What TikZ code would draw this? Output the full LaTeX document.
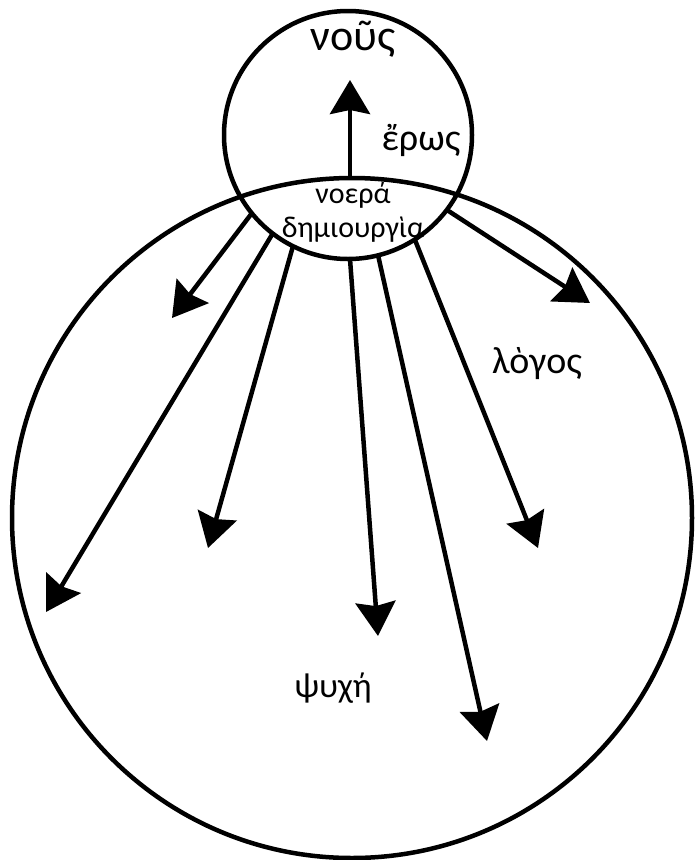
\documentclass[tikz,border=0pt]{standalone}
\usepackage{fontspec}
\setmainfont{Carlito}
\usetikzlibrary{arrows.meta}
\begin{document}
\begin{tikzpicture}[x=1pt,y=-1pt,
  ring/.style={line width=4.5pt,draw=black},
  ray/.style={line width=4.5pt,-{Stealth[length=34pt,width=40pt,inset=4pt]}},
  lbl/.style={anchor=base,inner sep=0pt,font=\fontsize{38}{42}\selectfont},
  slbl/.style={anchor=base,inner sep=0pt,font=\fontsize{30}{34}\selectfont}]
\useasboundingbox (0,0) rectangle (694,860);
\fill[white] (0,0) rectangle (694,860);
\coordinate (big) at (352,518);
\coordinate (small) at (348,135);
\draw[ring] (big) circle (340);
\draw[ring] (small) circle (124);
% up arrow
\coordinate (upS) at (350,178);
\coordinate (upE) at (350,80);
\draw[ray] (upS) -- (upE);
% radiating arrows
\coordinate (s1) at (252,213); \coordinate (e1) at (172,318);
\coordinate (s2) at (273,233); \coordinate (e2) at (46,612);
\coordinate (s3) at (293,246); \coordinate (e3) at (208,548);
\coordinate (s4) at (350,259); \coordinate (e4) at (378,636);
\coordinate (s5) at (378,255); \coordinate (e5) at (487,741);
\coordinate (s6) at (415,240); \coordinate (e6) at (538,548);
\coordinate (s7) at (447,210); \coordinate (e7) at (590,303);
\foreach \i in {1,...,7} {\draw[ray] (s\i) -- (e\i);}
% labels
\node[lbl,font=\fontsize{44}{48}\selectfont] (nous) at (353,50) {νοῦς};
\node[lbl] (eros) at (421,150) {ἔρως};
\node[slbl] (noera) at (353,203) {νοερά};
\node[slbl] (demi) at (353,237) {δημιουργὶα};
\node[lbl] (logos) at (537,373) {λὸγος};
\node[lbl,font=\fontsize{35}{40}\selectfont] (psyche) at (333,697) {ψυχή};
\end{tikzpicture}
\end{document}
